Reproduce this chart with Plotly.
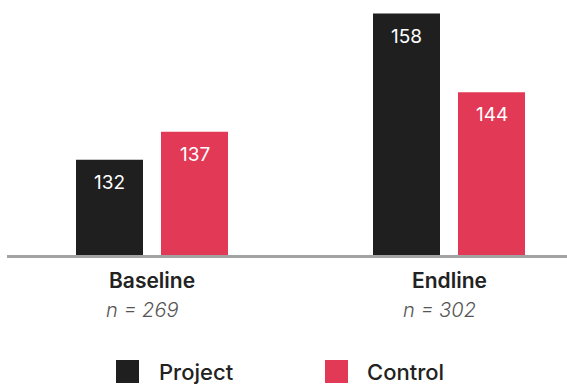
import plotly.graph_objects as go

categories = ["Baseline", "Endline"]
sample_sizes = ["n = 269", "n = 302"]
series_names = ["Project", "Control"]
project_values = [132, 158]
control_values = [137, 144]
series_values = [project_values, control_values]
series_colors = ["#1f1f1f", "#e23a56"]

FONT = "Inter"

fig = go.Figure()
for name, vals, col in zip(series_names, series_values, series_colors):
    fig.add_trace(go.Bar(x=categories, y=vals, name=name, marker_color=col,
                         marker_line_width=0, showlegend=False, hoverinfo="skip"))

annotations = []
# value labels inside bars
offsets = [-42.5, 42.5]
for vals, xs in zip(series_values, offsets):
    for c, v in zip(categories, vals):
        annotations.append(dict(x=c, y=v, xref="x", yref="y", text=str(v), showarrow=False,
                                xshift=xs, yshift=-22.5, yanchor="middle", xanchor="center",
                                font=dict(family=FONT, size=19, color="white")))
# category labels
for c, n in zip(categories, sample_sizes):
    annotations.append(dict(x=c, y=0, xref="x", yref="paper", text=c, showarrow=False,
                            yshift=-25.5, yanchor="middle",
                            font=dict(family=FONT, size=21, color="#222222", weight=600)))
    annotations.append(dict(x=c, y=0, xref="x", yref="paper", text=n, showarrow=False,
                            yshift=-54.5, xshift=-10, yanchor="middle",
                            font=dict(family=FONT, size=20, color="#555555", style="italic", weight=300)))

# legend
legend_px = [116, 325]
shapes = []
for name, col, px in zip(series_names, series_colors, legend_px):
    xa = (px - 7) / 560
    shapes.append(dict(type="rect", xref="paper", yref="paper", xsizemode="pixel", ysizemode="pixel",
                       xanchor=xa, yanchor=0, x0=0, x1=23, y0=-105, y1=-128,
                       fillcolor=col, line=dict(width=0)))
    annotations.append(dict(x=(px + 40.5 - 7) / 560, y=0, xref="paper", yref="paper", text=name,
                            showarrow=False, xanchor="left", yanchor="middle", yshift=-117,
                            font=dict(family=FONT, size=22, color="#222222", weight=500)))

fig.update_layout(
    width=567, height=385,
    margin=dict(l=7, r=0, t=0, b=130),
    paper_bgcolor="white", plot_bgcolor="white",
    barmode="group", bargap=0.4276, bargroupgap=0.2118,
    xaxis=dict(type="category", range=[-0.4882, 1.3973], showline=True, linecolor="#a3a3a3",
               linewidth=3, showticklabels=False, ticks="", showgrid=False, zeroline=False,
               fixedrange=True),
    yaxis=dict(range=[115.1, 160.4], visible=False, fixedrange=True),
    annotations=annotations,
    shapes=shapes,
    showlegend=False,
)

fig.write_html("out.html", config={"displayModeBar": False})
